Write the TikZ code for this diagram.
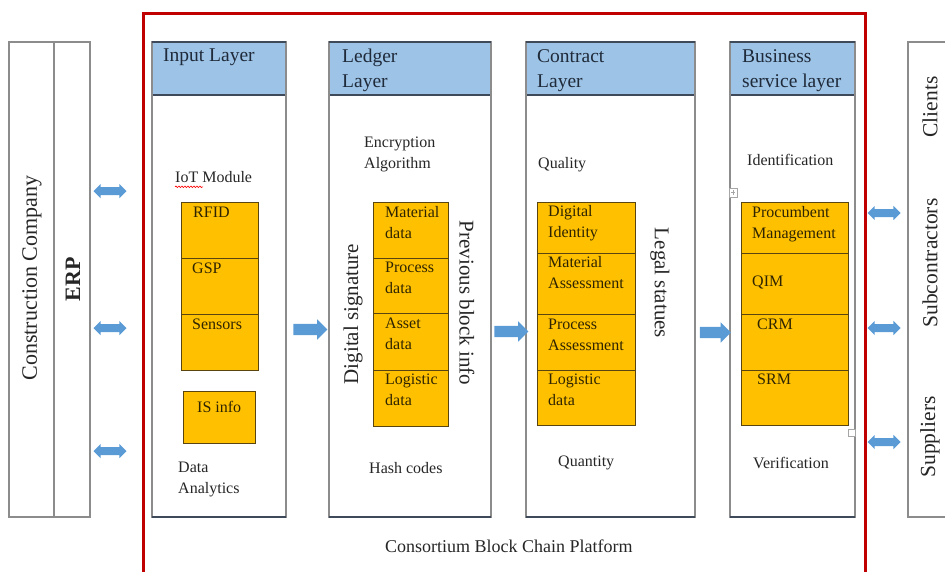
\documentclass[tikz,border=0pt]{standalone}
\usepackage{fontspec}
\setmainfont{Liberation Serif}
\usetikzlibrary{shapes.arrows,calc,decorations.pathmorphing}

\definecolor{hdrblue}{HTML}{9DC3E6}
\definecolor{cellorange}{HTML}{FFC000}
\definecolor{cellline}{HTML}{5A4410}
\definecolor{arrowblue}{HTML}{5B9BD5}
\definecolor{framered}{HTML}{C00000}
\definecolor{boxgray}{HTML}{8C8C8C}
\definecolor{hdrline}{HTML}{3E4A5A}
\definecolor{txt}{HTML}{262626}
\definecolor{hdrtxt}{HTML}{1F2A3A}
\definecolor{celltxt}{HTML}{2E2400}

\tikzset{
  layerbox/.style={draw=boxgray, line width=1.4pt, fill=white, anchor=north west,
    inner sep=0pt, outer sep=0pt, minimum height=475pt},
  sidebox/.style={draw=boxgray, line width=1.4pt, anchor=north west,
    inner sep=0pt, outer sep=0pt, minimum height=475pt},
  cell/.style={draw=cellline, line width=0.9pt, fill=cellorange, anchor=north west,
    inner sep=0pt, outer sep=0pt},
  hdrtext/.style={font=\fontsize{19.5}{25}\selectfont, text=hdrtxt, align=left,
    anchor=north west, inner sep=0pt},
  bodytext/.style={font=\fontsize{16}{21}\selectfont, text=txt, align=left,
    anchor=north west, inner sep=0pt},
  celltext/.style={bodytext, text=celltxt},
  sidetext/.style={font=\fontsize{22}{26}\selectfont, text=txt, rotate=90, inner sep=0pt},
  uptext/.style={font=\fontsize{21}{25}\selectfont, text=txt, rotate=90, inner sep=0pt},
  downtext/.style={font=\fontsize{21}{25}\selectfont, text=txt, rotate=-90, inner sep=0pt},
  biarrow/.style={double arrow, fill=arrowblue, draw=none, inner sep=3.8pt,
    double arrow head extend=3.2pt, minimum height=33pt},
  fwdarrow/.style={single arrow, fill=arrowblue, draw=none, inner sep=5.5pt,
    single arrow head extend=4.5pt, minimum height=34pt},
  handle/.style={draw=gray!70, fill=white, line width=0.6pt},
}

% layer column: white box, blue header band, outline
\newcommand\drawlayer[3]{%
  \node[layerbox, minimum width=#3] (#1) at (#2,42) {};
  \fill[hdrblue] (#1.north west) rectangle ($(#1.north east)+(0,53)$);
  \draw[hdrline, line width=1.2pt] ($(#1.north west)+(0,53)$) -- ($(#1.north east)+(0,53)$);
  \draw[boxgray, line width=1.4pt] (#1.north west) rectangle (#1.south east);
  \draw[hdrline, line width=1.2pt] (#1.north west) -- (#1.north east);
  \draw[hdrline, line width=1.2pt] (#1.south west) -- (#1.south east);
}

\begin{document}
\begin{tikzpicture}[x=1pt,y=-1pt]
\useasboundingbox (0,0) rectangle (945,571);

% consortium platform frame
\draw[framered, line width=3pt] (143,575) -- (143,13) -- (865,13) -- (865,575);

% company side
\node[sidebox, minimum width=45] (company) at (9,42) {};
\node[sidebox, minimum width=36] (erp) at (54,42) {};
\node[sidetext] (companyT) at (32,278) {Construction Company};
\node[sidetext, font=\fontsize{22}{26}\selectfont\bfseries] (erpT) at (73,279) {ERP};

% partners side
\node[sidebox, minimum width=45] (partners) at (908,42) {};
\node[sidetext, font=\fontsize{21.5}{26}\selectfont] (clients) at (930,107) {Clients};
\node[sidetext, font=\fontsize{21.5}{26}\selectfont] (subs) at (930,263) {Subcontractors};
\node[sidetext, font=\fontsize{21.5}{26}\selectfont] (suppliers) at (930,437) {Suppliers};

% layers
\drawlayer{input}{152}{134}
\drawlayer{ledger}{329}{162}
\drawlayer{contract}{526}{169}
\drawlayer{business}{730}{125}

\node[hdrtext] (inputH) at (163,49) {Input Layer};
\node[hdrtext] (ledgerH) at (342,49) {Ledger\\Layer};
\node[hdrtext] (contractH) at (537,49) {Contract\\Layer};
\node[hdrtext] (businessH) at (742,49) {Business\\service layer};

% input layer
\node[bodytext] (iot) at (175,171) {IoT Module};
\draw[red, line width=0.6pt, decorate, decoration={snake, amplitude=0.8pt, segment length=3pt}]
  ($(iot.base west)+(0,4.5)$) -- ++(28,0);
\node[cell, minimum width=77, minimum height=56] (rfid) at (181,202) {};
\node[cell, minimum width=77, minimum height=56] (gsp) at (181,258) {};
\node[cell, minimum width=77, minimum height=56] (sensors) at (181,314) {};
\node[celltext] (rfidT) at ($(rfid.north west)+(12,5)$) {RFID};
\node[celltext] (gspT) at ($(gsp.north west)+(11,5)$) {GSP};
\node[celltext] (sensorsT) at ($(sensors.north west)+(11,5)$) {Sensors};
\node[cell, minimum width=72, minimum height=52] (isinfo) at (183,391) {};
\node[celltext] (isinfoT) at ($(isinfo.north west)+(14,10)$) {IS info};
\node[bodytext] (analytics) at (178,462) {Data\\Analytics};

% ledger layer
\node[bodytext] (encrypt) at (364,137) {Encryption\\Algorithm};
\node[cell, minimum width=75, minimum height=56] (material) at (373,202) {};
\node[cell, minimum width=75, minimum height=55] (process) at (373,258) {};
\node[cell, minimum width=75, minimum height=57] (asset) at (373,313) {};
\node[cell, minimum width=75, minimum height=56] (logistic) at (373,370) {};
\node[celltext] (materialT) at ($(material.north west)+(12,4)$) {Material\\data};
\node[celltext] (processT) at ($(process.north west)+(12,4)$) {Process\\data};
\node[celltext] (assetT) at ($(asset.north west)+(12,5)$) {Asset\\data};
\node[celltext] (logisticT) at ($(logistic.north west)+(12,4)$) {Logistic\\data};
\node[uptext] (signature) at (353,314) {Digital signature};
\node[downtext] (previous) at (467,303) {Previous block info};
\node[bodytext] (hash) at (369,462) {Hash codes};

% contract layer
\node[bodytext] (quality) at (538,157) {Quality};
\node[cell, minimum width=98, minimum height=51] (identity) at (537,202) {};
\node[cell, minimum width=98, minimum height=61] (matass) at (537,253) {};
\node[cell, minimum width=98, minimum height=56] (procass) at (537,314) {};
\node[cell, minimum width=98, minimum height=55] (logdata) at (537,370) {};
\node[celltext] (identityT) at ($(identity.north west)+(11,3)$) {Digital\\Identity};
\node[celltext] (matassT) at ($(matass.north west)+(11,3)$) {Material\\Assessment};
\node[celltext] (procassT) at ($(procass.north west)+(11,5)$) {Process\\Assessment};
\node[celltext] (logdataT) at ($(logdata.north west)+(11,4)$) {Logistic\\data};
\node[downtext] (legal) at (660,283) {Legal statues};
\node[bodytext] (quantity) at (558,456) {Quantity};

% business service layer
\node[bodytext] (ident) at (747,154) {Identification};
\node[cell, minimum width=107, minimum height=51] (procure) at (741,202) {};
\node[cell, minimum width=107, minimum height=61] (qim) at (741,253) {};
\node[cell, minimum width=107, minimum height=56] (crm) at (741,314) {};
\node[cell, minimum width=107, minimum height=55] (srm) at (741,370) {};
\node[celltext] (procureT) at ($(procure.north west)+(11,4)$) {Procumbent\\Management};
\node[celltext] (qimT) at ($(qim.north west)+(11,23)$) {QIM};
\node[celltext] (crmT) at ($(crm.north west)+(16,5)$) {CRM};
\node[celltext] (srmT) at ($(srm.north west)+(16,4)$) {SRM};
\node[bodytext] (verify) at (753,457) {Verification};

% editing handles on the business column
\draw[handle] (729,188) rectangle (737,197);
\draw[gray!70, line width=0.5pt] (731,192.5) -- (735,192.5) (733,190) -- (733,195);
\draw[handle] (848,429) rectangle (855,436);

% flow between layers
\node[fwdarrow] (a1) at ($(input.east)!0.5!(ledger.west) + (0,50)$) {};
\node[fwdarrow] (a2) at ($(ledger.east)!0.5!(contract.west) + (0,52)$) {};
\node[fwdarrow, minimum height=31pt] (a3) at ($(contract.east)!0.5!(business.west) + (0,53)$) {};

% exchanges with the outside parties
\node[biarrow] (l1) at (110,191) {};
\node[biarrow] (l2) at (110,328) {};
\node[biarrow] (l3) at (110,451) {};
\node[biarrow] (r1) at (884,213) {};
\node[biarrow] (r2) at (884,328) {};
\node[biarrow] (r3) at (884,442) {};

\node[font=\fontsize{18}{22}\selectfont, text=txt, inner sep=0pt, anchor=base west] (platform) at (385,552) {Consortium Block Chain Platform};
\end{tikzpicture}
\end{document}
